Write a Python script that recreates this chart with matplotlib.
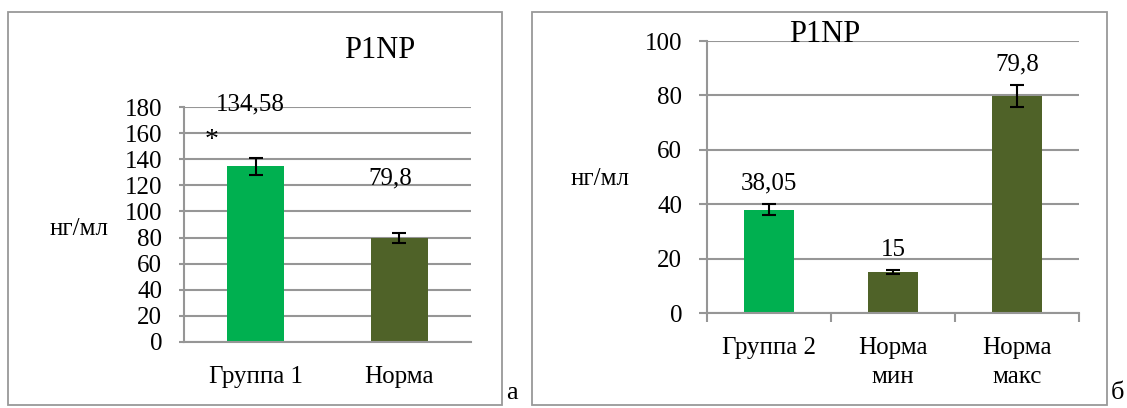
import matplotlib.pyplot as plt
from matplotlib.patches import Rectangle

# data
cats_a = ['Группа 1', 'Норма']
vals_a = [134.58, 79.8]
err_a = [6.6, 4.0]
labels_a = ['134,58', '79,8']

cats_b = ['Группа 2', 'Норма\nмин', 'Норма\nмакс']
vals_b = [38.05, 15, 79.8]
err_b = [2.0, 0.8, 4.2]
labels_b = ['38,05', '15', '79,8']

green = '#00B050'
olive = '#4F6228'
grid_c = '#969696'

plt.rcParams['font.family'] = ['Liberation Serif', 'DejaVu Serif']

W, H = 1127, 408
fig = plt.figure(figsize=(W / 100, H / 100), dpi=100)


def fx(px):
    return px / W


def fy(py):
    return 1 - py / H


# panel frames
for x0, x1 in [(8, 502), (532, 1107)]:
    fig.add_artist(Rectangle((fx(x0), fy(405)), fx(x1) - fx(x0), fy(12) - fy(405),
                             transform=fig.transFigure, fill=False,
                             edgecolor='#999999', linewidth=1.3))


def style_axes(ax, ymax, step, tlen):
    ax.set_ylim(0, ymax)
    ax.set_yticks(range(0, ymax + 1, step))
    ax.yaxis.grid(True, color=grid_c, linewidth=1.5)
    ax.set_axisbelow(True)
    for s in ['top', 'right']:
        ax.spines[s].set_visible(False)
    for s in ['left', 'bottom']:
        ax.spines[s].set_color(grid_c)
        ax.spines[s].set_linewidth(1.5)
    ax.tick_params(axis='y', colors=grid_c, length=tlen, width=1.5, labelsize=18,
                   labelcolor='black', pad=12)
    ax.tick_params(axis='x', labelsize=18, labelcolor='black')


# panel a
ax1 = fig.add_axes([fx(184), fy(342), fx(471) - fx(184), fy(107) - fy(342)])
ax1.bar(range(len(cats_a)), vals_a, width=0.4, color=[green, olive],
        yerr=err_a, capsize=5, error_kw={'elinewidth': 1.5, 'capthick': 1.5})
ax1.set_xlim(-0.5, 1.5)
style_axes(ax1, 180, 20, 3.6)
ax1.set_xticks(range(len(cats_a)))
ax1.set_xticklabels(cats_a)
ax1.tick_params(axis='x', length=0, pad=17)
ax1.text(-0.04, 182, labels_a[0], ha='center', va='center', fontsize=18)
ax1.text(-0.31, 154, '*', ha='center', va='center', fontsize=20)
ax1.text(0.94, 125, labels_a[1], ha='center', va='center', fontsize=18)
fig.text(fx(79), fy(229), 'нг/мл', ha='center', va='center', fontsize=18)
fig.text(fx(380), fy(51), 'P1NP', ha='center', va='center', fontsize=22)
fig.text(fx(512), fy(393), 'а', ha='center', va='center', fontsize=19)

# panel b
ax2 = fig.add_axes([fx(707), fy(313), fx(1079) - fx(707), fy(41) - fy(313)])
ax2.bar(range(len(cats_b)), vals_b, width=0.4, color=[green, olive, olive],
        yerr=err_b, capsize=5, error_kw={'elinewidth': 1.5, 'capthick': 1.5})
ax2.set_xlim(-0.5, 2.5)
style_axes(ax2, 100, 20, 5.8)
ax2.set_xticks([-0.5, 0.5, 1.5, 2.5])
ax2.set_xticklabels([])
ax2.set_xticks(range(len(cats_b)), minor=True)
ax2.set_xticklabels(cats_b, minor=True, linespacing=1.45, va='top')
ax2.tick_params(axis='x', which='major', colors=grid_c, length=6.5, width=1.5)
ax2.tick_params(axis='x', which='minor', length=0, pad=17, labelsize=18)
for i, (v, t) in enumerate(zip(vals_b, labels_b)):
    ax2.text(i, v + err_b[i] + 7.5, t, ha='center', va='center', fontsize=18)
fig.text(fx(600), fy(179), 'нг/мл', ha='center', va='center', fontsize=18)
fig.text(fx(825), fy(35), 'P1NP', ha='center', va='center', fontsize=22)
fig.text(fx(1117), fy(393), 'б', ha='center', va='center', fontsize=19)

fig.savefig('out.png', dpi=100)
